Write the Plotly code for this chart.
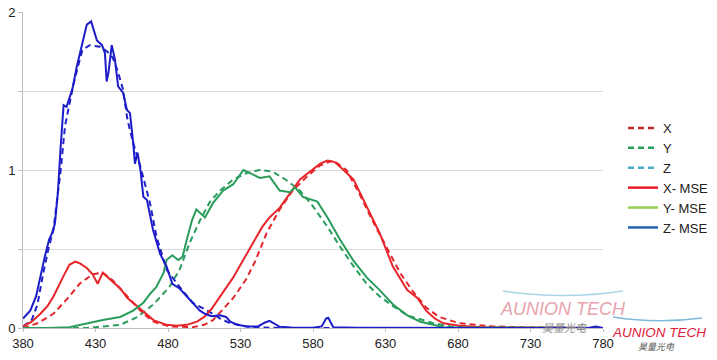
import plotly.graph_objects as go

# ---------------- data ----------------
x_wl = [380, 390, 401, 412, 419, 428, 435, 442, 449, 456, 463, 470, 481, 497, 505, 511, 518, 525,
        534, 540, 548, 557, 566, 576, 585, 594, 603, 612, 621, 631, 640, 649, 658, 667, 681, 704, 730, 780]
x_val = [0.0, 0.03, 0.09, 0.20, 0.28, 0.34, 0.35, 0.30, 0.23, 0.16, 0.09, 0.04, 0.01, 0.005, 0.02, 0.05, 0.12, 0.19,
         0.31, 0.42, 0.60, 0.75, 0.87, 0.96, 1.03, 1.06, 1.0, 0.85, 0.68, 0.51, 0.35, 0.23, 0.13, 0.07, 0.03, 0.01, 0.003, 0.0]

y_wl = [380, 424, 447, 459, 470, 481, 488, 495, 502, 509, 516, 525, 534, 543, 552, 561, 571, 580,
        590, 599, 608, 617, 626, 635, 645, 652, 663, 675, 690, 780]
y_val = [0.0, 0.0, 0.02, 0.07, 0.15, 0.26, 0.37, 0.54, 0.68, 0.80, 0.87, 0.94, 0.98, 1.0, 0.99, 0.94, 0.87, 0.77,
         0.64, 0.51, 0.39, 0.28, 0.20, 0.14, 0.08, 0.06, 0.03, 0.01, 0.003, 0.0]

z_wl = [380, 386, 390, 394, 398, 401, 404, 406, 409, 411, 414.5, 418, 421, 426, 433, 438, 442, 445.5, 449,
        452, 456, 461, 467.6, 472, 479, 488, 497, 509, 516, 523, 534, 545, 560, 780]
z_val = [0.01, 0.05, 0.15, 0.35, 0.52, 0.62, 0.85, 1.0, 1.28, 1.38, 1.53, 1.66, 1.76, 1.79, 1.78, 1.75, 1.71, 1.62, 1.51,
         1.32, 1.17, 1.02, 0.79, 0.58, 0.37, 0.26, 0.16, 0.10, 0.06, 0.03, 0.01, 0.003, 0.0, 0.0]

xmse_wl = [380, 386, 392, 397, 401, 405, 408, 412, 416, 419, 424, 428, 431.5, 435, 440, 447, 452, 457, 463, 470,
           479, 486, 493, 500, 505, 510, 516, 525, 530, 539, 545, 550, 557, 564, 571, 578, 585, 590, 595, 600,
           608, 617, 626, 635, 645, 652, 658, 664, 670, 681, 690, 700, 780]
xmse_val = [0.01, 0.04, 0.09, 0.14, 0.20, 0.28, 0.33, 0.40, 0.42, 0.41, 0.38, 0.34, 0.28, 0.35, 0.31, 0.25, 0.19, 0.15, 0.10, 0.05,
            0.02, 0.015, 0.02, 0.04, 0.07, 0.12, 0.20, 0.32, 0.40, 0.54, 0.64, 0.70, 0.76, 0.85, 0.94, 0.99, 1.04, 1.06, 1.05, 1.01,
            0.94, 0.77, 0.60, 0.39, 0.24, 0.19, 0.11, 0.06, 0.03, 0.015, 0.01, 0.003, 0.0]

ymse_wl = [380, 396, 412, 424, 435, 447, 456, 463, 468, 472, 477, 479, 483, 487, 490, 493, 496.5, 499.5, 505.5,
           511, 518, 525, 532, 536.6, 543.4, 550, 557, 564, 567.6, 573, 583, 590, 598.6, 607.6, 617, 626, 635,
           645, 654, 663, 670, 780]
ymse_val = [0.0, 0.0, 0.005, 0.03, 0.05, 0.07, 0.11, 0.16, 0.22, 0.26, 0.35, 0.43, 0.46, 0.43, 0.45, 0.56, 0.68, 0.75, 0.70,
            0.79, 0.87, 0.91, 1.0, 0.98, 0.95, 0.96, 0.87, 0.86, 0.89, 0.83, 0.80, 0.70, 0.56, 0.43, 0.32, 0.24, 0.15,
            0.08, 0.04, 0.02, 0.005, 0.0]

zmse_wl = [380, 385, 389, 392, 395, 398, 400, 402, 404, 406, 408, 410, 412.4, 414, 417, 420.7, 424, 427, 428.5, 431,
           434.5, 436.5, 437.7, 439, 441.2, 443.4, 445.6, 449, 451.7, 453.8, 456, 457.2, 459, 461, 463, 465.5,
           469.7, 474.5, 479, 483, 488, 495, 502, 505.5, 510, 516, 520, 523, 528, 534.5, 542, 547, 550, 553, 557,
           565, 580, 586, 589, 590.5, 592, 594, 610, 700, 770, 775, 780]
zmse_val = [0.06, 0.11, 0.20, 0.33, 0.45, 0.56, 0.60, 0.66, 0.85, 1.15, 1.41, 1.40, 1.46, 1.51, 1.65, 1.80, 1.92, 1.94, 1.90, 1.82,
            1.79, 1.74, 1.56, 1.62, 1.79, 1.70, 1.53, 1.49, 1.38, 1.36, 1.17, 1.04, 1.11, 1.00, 0.83, 0.81,
            0.62, 0.47, 0.39, 0.28, 0.25, 0.18, 0.11, 0.09, 0.075, 0.08, 0.07, 0.04, 0.02, 0.01, 0.01, 0.035, 0.045, 0.03, 0.008,
            0.003, 0.002, 0.01, 0.06, 0.065, 0.04, 0.005, 0.002, 0.0, 0.0, 0.01, 0.0]

x_ticks = [380, 430, 480, 530, 580, 630, 680, 730, 780]
y_ticks = [0, 0.5, 1, 1.5, 2]
y_ticktext = ["0", "", "1", "", "2"]

legend_names = ["X", "Y", "Z", "X- MSE", "Y- MSE", "Z- MSE"]
legend_colors = ["#c0262c", "#24a05a", "#4bacc6", "#ee1c24", "#92d050", "#2464b4"]
legend_dash = ["6px,4px", "6px,4px", "6px,4px", "solid", "solid", "solid"]

# ---------------- figure ----------------
fig = go.Figure()

DASH = "6px,4px"
curves = [
    (x_wl, x_val, "#e3262c", DASH),
    (y_wl, y_val, "#2a9d5c", DASH),
    (z_wl, z_val, "#2020c8", DASH),
    (xmse_wl, xmse_val, "#e8252b", "solid"),
    (ymse_wl, ymse_val, "#2a9d5c", "solid"),
    (zmse_wl, zmse_val, "#1c1cc8", "solid"),
]
for wl, val, col, dash in curves:
    fig.add_trace(go.Scatter(x=wl, y=val, mode="lines", showlegend=False, hoverinfo="skip",
                             line=dict(color=col, width=2, dash=dash)))

for name, col, dash in zip(legend_names, legend_colors, legend_dash):
    fig.add_trace(go.Scatter(x=[None], y=[None], mode="lines", name=name,
                             line=dict(color=col, width=2.5, dash=dash)))

W, H = 717, 360
PLOT_L, PLOT_R, PLOT_T, PLOT_B = 23, 603, 12, 328   # plot area in pixels
L, T, R, B = PLOT_L, PLOT_T, W - PLOT_R, H - PLOT_B
PW, PH = PLOT_R - PLOT_L, PLOT_B - PLOT_T


def px(xp):
    return (xp - PLOT_L) / PW


def py(yp):
    return (PLOT_B - yp) / PH


# watermark arcs
for (x0, y0, xm, ym, x1, y1, col) in [(503, 291, 563, 300, 623, 291, "#a9d6e6"),
                                      (613, 317, 657, 324, 702, 318, "#7fbad8")]:
    fig.add_shape(type="path", xref="paper", yref="paper",
                  path=f"M {px(x0)},{py(y0)} Q {px(xm)},{py(ym)} {px(x1)},{py(y1)}",
                  line=dict(color=col, width=1.5))

ann = [
    (563, 309, "<i>AUNION TECH</i>", "Liberation Sans", 18, "#e8a3ae"),
    (564, 327, "<i>昊量光电</i>", "Noto Sans CJK SC", 11, "#8a8a8a"),
    (659, 332, "<i>AUNION TECH</i>", "Liberation Sans", 13.5, "#e0203a"),
    (656, 346, "<i>昊量光电</i>", "Noto Sans CJK SC", 9, "#555555"),
]
for ax_, ay_, t, fam, sz, col in ann:
    fig.add_annotation(xref="paper", yref="paper", x=px(ax_), y=py(ay_), text=t,
                       xanchor="center", yanchor="middle", showarrow=False,
                       font=dict(family=fam, size=sz, color=col))

fig.update_layout(
    width=W, height=H,
    margin=dict(l=L, r=R, t=T, b=B, pad=0, autoexpand=False),
    paper_bgcolor="white", plot_bgcolor="white",
    font=dict(family="Liberation Sans, Arial, sans-serif", size=13, color="#222222"),
    legend=dict(x=px(623), y=py(113), xanchor="left", yanchor="top",
                font=dict(size=13, color="#222222"), bgcolor="rgba(0,0,0,0)", itemwidth=30),
    xaxis=dict(range=[380, 780], tickvals=x_ticks, showgrid=False, zeroline=False, automargin=False,
               showline=True, linecolor="#bfbfbf", linewidth=1, ticks="outside", ticklen=3,
               tickcolor="#bfbfbf", tickfont=dict(size=13), fixedrange=True),
    yaxis=dict(range=[0, 2], tickvals=y_ticks, ticktext=y_ticktext, showgrid=True, automargin=False,
               gridcolor="#d9d9d9", gridwidth=1, zeroline=False, showline=True,
               linecolor="#bfbfbf", linewidth=1, ticks="outside", ticklen=4, tickcolor="#bfbfbf",
               tickfont=dict(size=13), fixedrange=True, ticklabeloverflow="allow"),
)

# remove the page's default body margin so the figure sits at the window's top-left corner
fig.write_html("out.html", config={"displayModeBar": False},
               post_script="document.body.style.margin='0px';")
